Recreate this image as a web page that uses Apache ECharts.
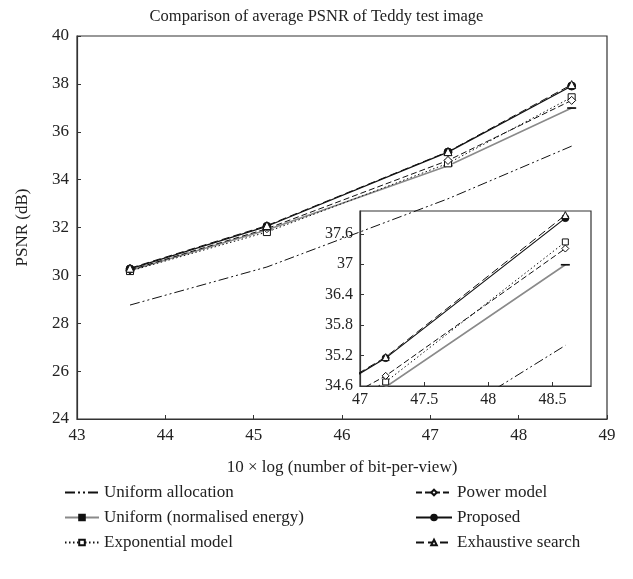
<!DOCTYPE html>
<html><head><meta charset="utf-8">
<script src="https://cdn.jsdelivr.net/npm/echarts/dist/echarts.min.js"></script>
<style>html,body{margin:0;padding:0;background:#fff}#c{width:633px;height:579px}</style>
</head><body><div id="c"></div><script>
const xValues = [43.6, 45.15, 47.2, 48.6];
const uniformAllocation = [28.76, 30.35, 33.2, 35.4];
const uniformNormalised = [30.2, 31.9, 34.58, 36.99];
const exponentialModel = [30.18, 31.81, 34.68, 37.44];
const powerModel = [30.22, 31.95, 34.8, 37.31];
const proposed = [30.27, 32.05, 35.15, 37.91];
const exhaustiveSearch = [30.3, 32.08, 35.17, 37.97];
const seriesNames = ['Uniform allocation', 'Uniform (normalised energy)', 'Exponential model', 'Power model', 'Proposed', 'Exhaustive search'];
const title = 'Comparison of average PSNR of Teddy test image';
const xName = '10 \u00d7 log (number of bit-per-view)';
const yName = 'PSNR (dB)';

const FONT = 'Liberation Serif';
const INK = '#222';
const DASH = 'path://M0,0 H6 V2 H0 Z';
const styles = [
  {vals: uniformAllocation, color: '#111', width: 1, type: [10, 3, 2, 3, 2, 3], symbol: 'circle', size: 1, fill: 'rgba(0,0,0,0)', border: 'rgba(0,0,0,0)', hide: true},
  {vals: uniformNormalised, color: '#8a8a8a', width: 1.6, type: 'solid', symbol: DASH, size: [6, 2], fill: '#111', border: '#111'},
  {vals: exponentialModel, color: '#111', width: 1, type: [1.5, 2.5], symbol: 'rect', size: 7, fill: '#fff', border: '#111'},
  {vals: powerModel, color: '#111', width: 1, type: [6, 3], symbol: 'diamond', size: 8, fill: '#fff', border: '#111'},
  {vals: proposed, color: '#111', width: 1.2, type: 'solid', symbol: 'circle', size: 8, fill: '#111', border: '#111'},
  {vals: exhaustiveSearch, color: '#111', width: 1, type: [8, 4], symbol: 'triangle', size: 8, fill: '#fff', border: '#111'}
];

const series = [];
[0, 1].forEach(g => {
  styles.forEach((s, i) => {
    series.push({
      name: seriesNames[i],
      type: 'line',
      xAxisIndex: g, yAxisIndex: g,
      data: xValues.map((x, k) => [x, s.vals[k]]),
      symbol: s.symbol,
      symbolKeepAspect: true,
      symbolSize: g === 1 && typeof s.size === 'number' && !s.hide ? s.size - 1 : s.size,
      showSymbol: !s.hide,
      clip: true,
      lineStyle: {color: s.color, width: s.width, type: s.type},
      itemStyle: {color: s.fill, borderColor: s.border, borderWidth: 1},
      z: 2 + i,
      animation: false,
      silent: true
    });
  });
});

const axisCommon = {
  axisLine: {show: true, lineStyle: {color: '#333', width: 1.2}},
  axisTick: {show: true, inside: true, length: 4, lineStyle: {color: '#333'}},
  splitLine: {show: false},
  axisLabel: {color: INK, fontFamily: FONT, fontSize: 17}
};

const chart = echarts.init(document.getElementById('c'), null, {renderer: 'canvas'});
chart.setOption({
  animation: false,
  backgroundColor: '#fff',
  title: {text: title, left: 'center', top: 3, textStyle: {fontFamily: FONT, fontSize: 16.5, fontWeight: 'normal', color: INK}},
  grid: [
    {left: 77, top: 36, width: 530, height: 383, show: true, borderColor: '#333', borderWidth: 1.2, backgroundColor: 'transparent'},
    {left: 360, top: 211, width: 231, height: 175, show: true, borderColor: '#333', borderWidth: 1.2, backgroundColor: 'transparent'}
  ],
  xAxis: [
    Object.assign({}, axisCommon, {type: 'value', gridIndex: 0, min: 43, max: 49, interval: 1,
      name: xName, nameLocation: 'middle', nameGap: 40,
      nameTextStyle: {fontFamily: FONT, fontSize: 17, color: INK},
      axisLabel: {color: INK, fontFamily: FONT, fontSize: 17, margin: 8}}),
    Object.assign({}, axisCommon, {type: 'value', gridIndex: 1, min: 47, max: 48.8, interval: 0.5,
      axisLabel: {color: INK, fontFamily: FONT, fontSize: 16, margin: 6, showMaxLabel: false}})
  ],
  yAxis: [
    Object.assign({}, axisCommon, {type: 'value', gridIndex: 0, min: 24, max: 40, interval: 2,
      name: yName, nameLocation: 'middle', nameGap: 46,
      nameTextStyle: {fontFamily: FONT, fontSize: 17, color: INK},
      axisLabel: {color: INK, fontFamily: FONT, fontSize: 17, margin: 8}}),
    Object.assign({}, axisCommon, {type: 'value', gridIndex: 1, min: 34.6, max: 38.05, interval: 0.6,
      axisLabel: {color: INK, fontFamily: FONT, fontSize: 16, margin: 7, showMaxLabel: false,
        formatter: v => (Math.round(v * 10) / 10).toString()}})
  ],
  legend: [
    {data: seriesNames.slice(0, 3), orient: 'vertical', left: 59, top: 479, itemGap: 8, itemWidth: 34, itemHeight: 7,
      textStyle: {fontFamily: FONT, fontSize: 17, color: INK}, selectedMode: false},
    {data: seriesNames.slice(3), orient: 'vertical', left: 410, top: 479, itemGap: 8, itemWidth: 36, itemHeight: 7,
      textStyle: {fontFamily: FONT, fontSize: 17, color: INK}, selectedMode: false}
  ],
  series: series
});
</script></body></html>
